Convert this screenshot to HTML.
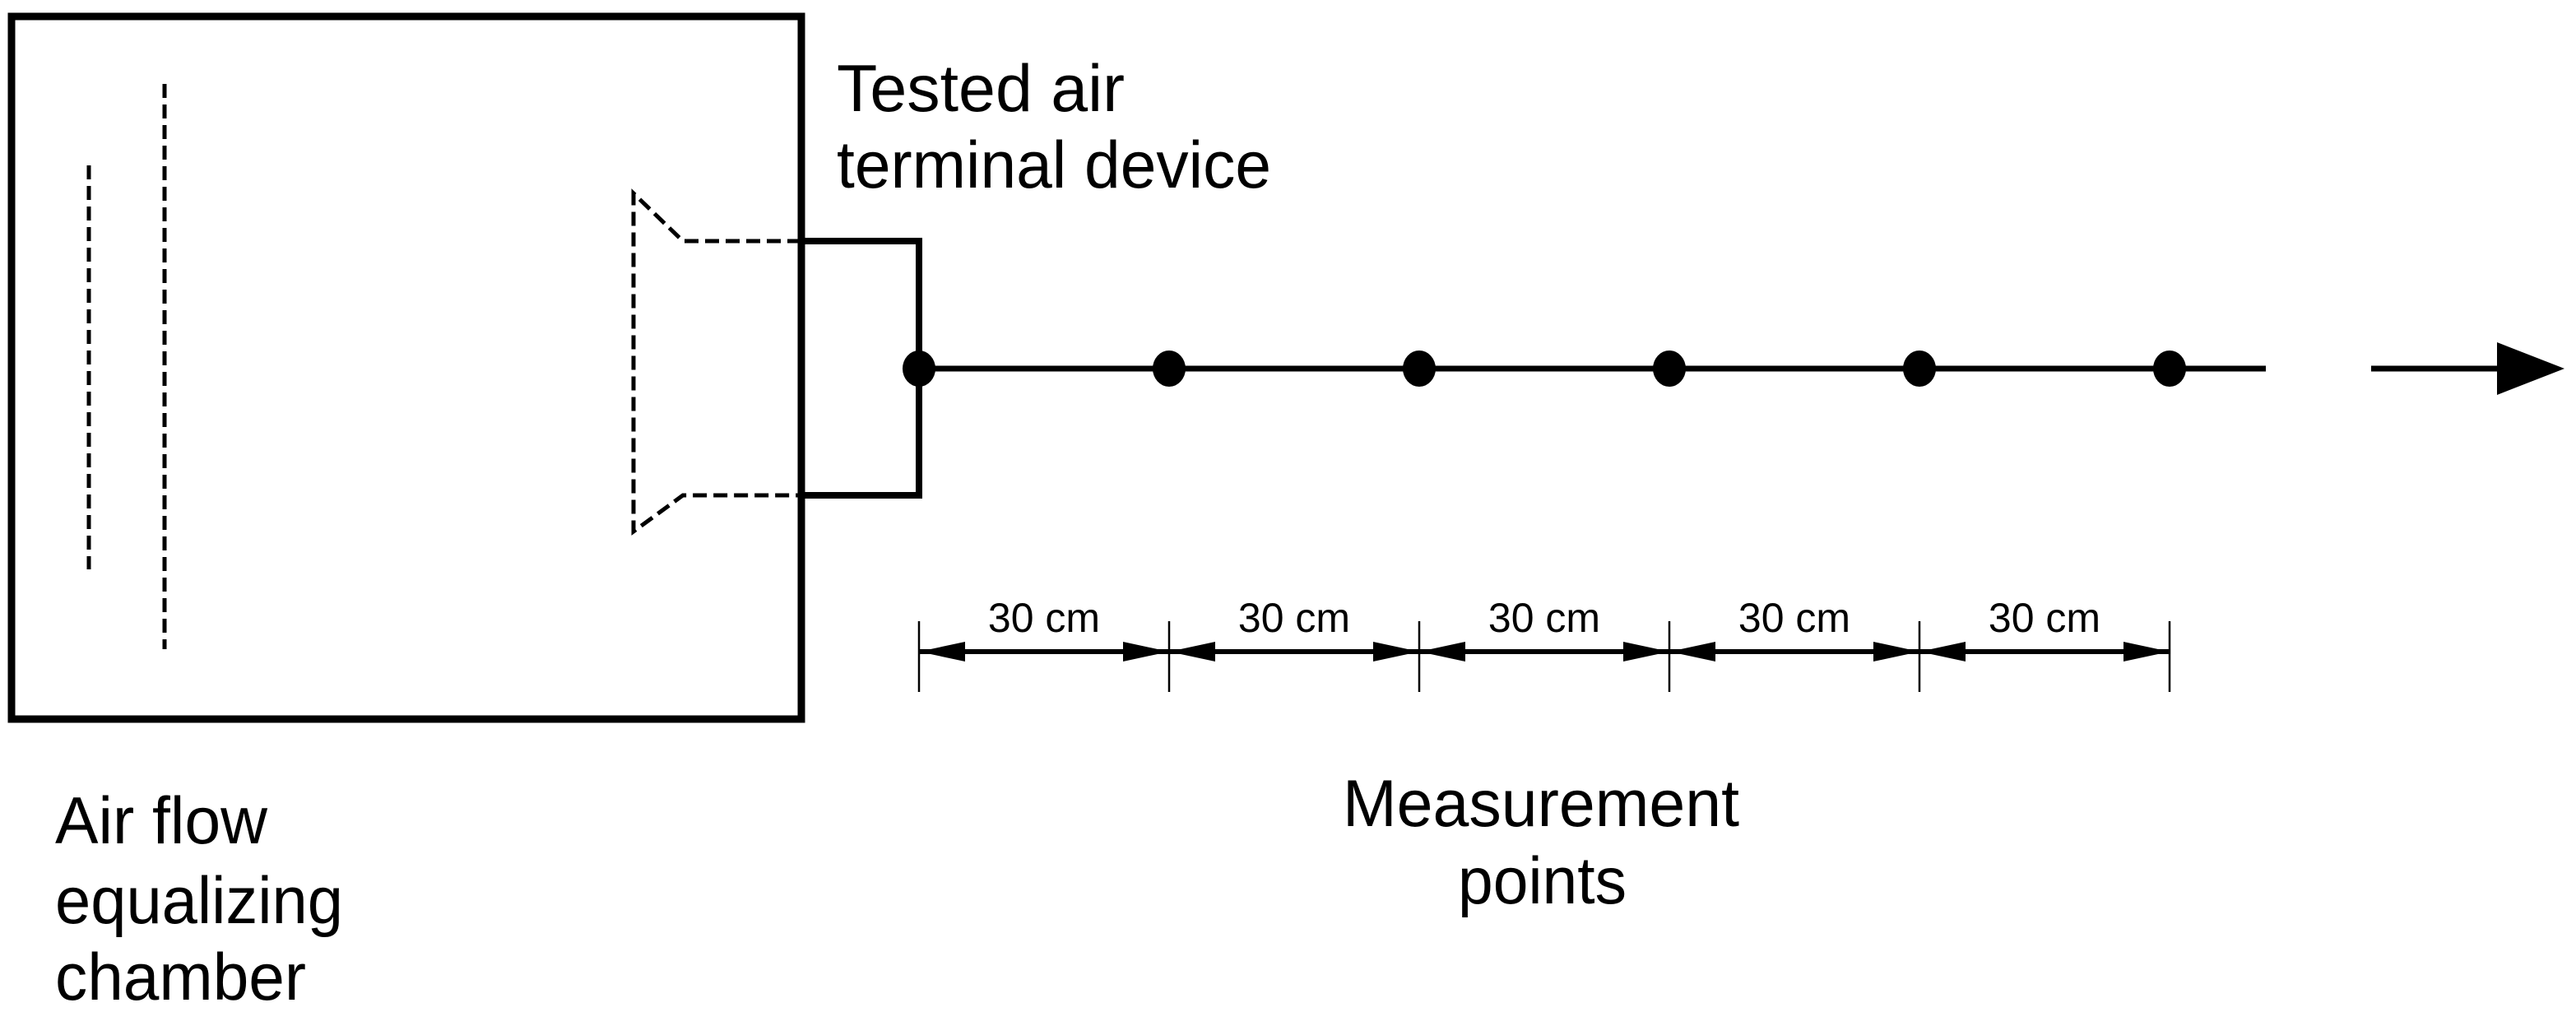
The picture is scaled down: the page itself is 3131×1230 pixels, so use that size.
<!DOCTYPE html>
<html><head><meta charset="utf-8"><style>
html,body{margin:0;padding:0;background:#fff;}
svg{display:block;}
text{font-family:"Liberation Sans",Arial,sans-serif;fill:#000;}
</style></head><body>
<svg width="3131" height="1230" viewBox="0 0 3131 1230" xmlns="http://www.w3.org/2000/svg">
<rect x="0" y="0" width="3131" height="1230" fill="#fff"/>
<!-- chamber -->
<rect x="14" y="20" width="960" height="854" fill="none" stroke="#000" stroke-width="9"/>
<!-- dashed screens -->
<line x1="108" y1="201" x2="108" y2="692" stroke="#000" stroke-width="5" stroke-dasharray="17,8"/>
<line x1="200" y1="102" x2="200" y2="789" stroke="#000" stroke-width="5" stroke-dasharray="17,8"/>
<!-- dashed trapezoid -->
<polyline points="974,293 830,293 770,235 770,646 830,602 974,602" fill="none" stroke="#000" stroke-width="5" stroke-dasharray="17,8"/>
<!-- solid bracket -->
<polyline points="974,293 1117,293 1117,602 974,602" fill="none" stroke="#000" stroke-width="8"/>
<!-- main line -->
<line x1="1117" y1="448" x2="2754" y2="448" stroke="#000" stroke-width="7"/>
<line x1="2882" y1="448" x2="3040" y2="448" stroke="#000" stroke-width="7"/>
<polygon points="3035,416 3117,448 3035,480" fill="#000"/>
<!-- dots -->
<g fill="#000">
<ellipse cx="1117" cy="448" rx="20" ry="22"/>
<ellipse cx="1421" cy="448" rx="20" ry="22"/>
<ellipse cx="1725" cy="448" rx="20" ry="22"/>
<ellipse cx="2029" cy="448" rx="20" ry="22"/>
<ellipse cx="2333" cy="448" rx="20" ry="22"/>
<ellipse cx="2637" cy="448" rx="20" ry="22"/>
</g>
<!-- dimension ticks -->
<g stroke="#000" stroke-width="2.5">
<line x1="1117" y1="755" x2="1117" y2="841"/>
<line x1="1421" y1="755" x2="1421" y2="841"/>
<line x1="1725" y1="755" x2="1725" y2="841"/>
<line x1="2029" y1="755" x2="2029" y2="841"/>
<line x1="2333" y1="755" x2="2333" y2="841"/>
<line x1="2637" y1="755" x2="2637" y2="841"/>
</g>
<line x1="1117" y1="792" x2="2637" y2="792" stroke="#000" stroke-width="6"/>
<g fill="#000">
<polygon points="1117,792 1173,780 1173,804"/><polygon points="1421,792 1365,780 1365,804"/>
<polygon points="1421,792 1477,780 1477,804"/><polygon points="1725,792 1669,780 1669,804"/>
<polygon points="1725,792 1781,780 1781,804"/><polygon points="2029,792 1973,780 1973,804"/>
<polygon points="2029,792 2085,780 2085,804"/><polygon points="2333,792 2277,780 2277,804"/>
<polygon points="2333,792 2389,780 2389,804"/><polygon points="2637,792 2581,780 2581,804"/>
</g>
<g font-size="50" text-anchor="middle">
<text x="1269" y="768">30 cm</text>
<text x="1573" y="768">30 cm</text>
<text x="1877" y="768">30 cm</text>
<text x="2181" y="768">30 cm</text>
<text x="2485" y="768">30 cm</text>
</g>
<!-- labels -->
<g font-size="81">
<text x="1017" y="135" textLength="350" lengthAdjust="spacingAndGlyphs">Tested air</text>
<text x="1017" y="228" textLength="528" lengthAdjust="spacingAndGlyphs">terminal device</text>
<text x="67" y="1025" textLength="258" lengthAdjust="spacingAndGlyphs">Air flow</text>
<text x="67" y="1122" textLength="350" lengthAdjust="spacingAndGlyphs">equalizing</text>
<text x="67" y="1215" textLength="305" lengthAdjust="spacingAndGlyphs">chamber</text>
<text x="1632" y="1004" textLength="482" lengthAdjust="spacingAndGlyphs">Measurement</text>
<text x="1772" y="1098" textLength="205" lengthAdjust="spacingAndGlyphs">points</text>
</g>
</svg>
</body></html>
